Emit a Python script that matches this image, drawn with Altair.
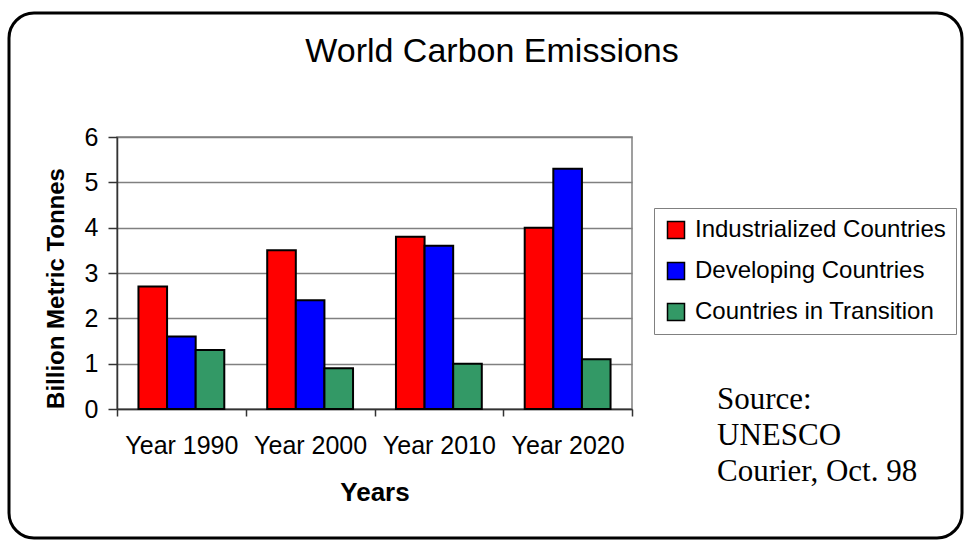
import altair as alt
import pandas as pd

years = ["Year 1990", "Year 2000", "Year 2010", "Year 2020"]
groups = ["Industrialized Countries", "Developing Countries", "Countries in Transition"]
industrialized = [2.7, 3.5, 3.8, 4.0]
developing = [1.6, 2.4, 3.6, 5.3]
transition = [1.3, 0.9, 1.0, 1.1]
colors = ["#FF0000", "#0000FF", "#339966"]
y_ticks = [0, 1, 2, 3, 4, 5, 6]
source_lines = ["Source:", "UNESCO", "Courier, Oct. 98"]
title_text = "World Carbon Emissions"

rows = []
for g, vals in zip(groups, [industrialized, developing, transition]):
    for yr, v in zip(years, vals):
        rows.append({"Year": yr, "Group": g, "Value": v})
df = pd.DataFrame(rows)

FONT = "Liberation Sans"

bars = alt.Chart(df).mark_bar(stroke="black", strokeWidth=2).encode(
    x=alt.X(
        "Year:N", sort=years,
        scale=alt.Scale(paddingInner=0, paddingOuter=0),
        axis=alt.Axis(
            title="Years", labelAngle=0, tickBand="extent", grid=False,
            domainColor="#333333", domainWidth=1.5, tickColor="#333333", tickWidth=1.5,
            tickSize=7, labelFontSize=25, labelFont=FONT, labelColor="black",
            labelPadding=17, titleFont=FONT, titleFontSize=26, titleFontWeight="bold",
            titleColor="black", titleY=91, titleBaseline="alphabetic",
        ),
    ),
    xOffset=alt.XOffset("Group:N", sort=groups,
                        scale=alt.Scale(paddingInner=0, paddingOuter=0.75)),
    y=alt.Y(
        "Value:Q",
        scale=alt.Scale(domain=[0, 6]),
        axis=alt.Axis(
            values=y_ticks, format="d", title="Billion Metric Tonnes",
            grid=True, gridColor="#808080", gridWidth=1.5,
            domainColor="#333333", domainWidth=1.5, tickColor="#333333", tickWidth=1.5,
            tickSize=9, labelFontSize=25, labelFont=FONT, labelColor="black",
            labelPadding=10, titleFont=FONT, titleFontSize=24, titleFontWeight="bold",
            titleColor="black", titleAngle=270, titleX=-54, titleY=151,
            titleBaseline="alphabetic", titleAlign="center",
        ),
    ),
    color=alt.Color(
        "Group:N", sort=groups,
        scale=alt.Scale(domain=groups, range=colors),
        legend=alt.Legend(
            title=None, orient="none", legendX=537, legendY=71,
            symbolType="square", symbolSize=289, symbolStrokeColor="black",
            symbolStrokeWidth=1.5, labelFontSize=24, labelFont=FONT,
            labelColor="black", labelLimit=400, rowPadding=17, labelOffset=7,
            padding=10, strokeColor="#808080", fillColor="white",
        ),
    ),
)

src = alt.Chart(pd.DataFrame({"k": [0]})).mark_text(
    align="left", baseline="alphabetic", font="Liberation Serif",
    fontSize=31, lineHeight=36, color="black",
).encode(x=alt.value(600), y=alt.value(272), text=alt.value(source_lines))

ttl = alt.Chart(pd.DataFrame({"k": [0]})).mark_text(
    align="center", baseline="alphabetic", font=FONT,
    fontSize=34, color="black",
).encode(x=alt.value(375), y=alt.value(-75), text=alt.value(title_text))

border = alt.Chart(pd.DataFrame({"k": [0]})).mark_rect(
    cornerRadius=25, stroke="black", strokeWidth=3, fillOpacity=0,
).encode(x=alt.value(-108), x2=alt.value(845), y=alt.value(-124), y2=alt.value(401))

chart = alt.layer(border, bars, src, ttl).properties(
    width=515, height=272,
    autosize=alt.AutoSizeParams(type="none"),
    padding={"left": 117, "top": 137, "right": 333, "bottom": 133},
    background="white",
).configure_view(stroke="#808080", strokeWidth=1.5)

chart.save("out.html", embed_options={"renderer": "svg", "actions": False})
